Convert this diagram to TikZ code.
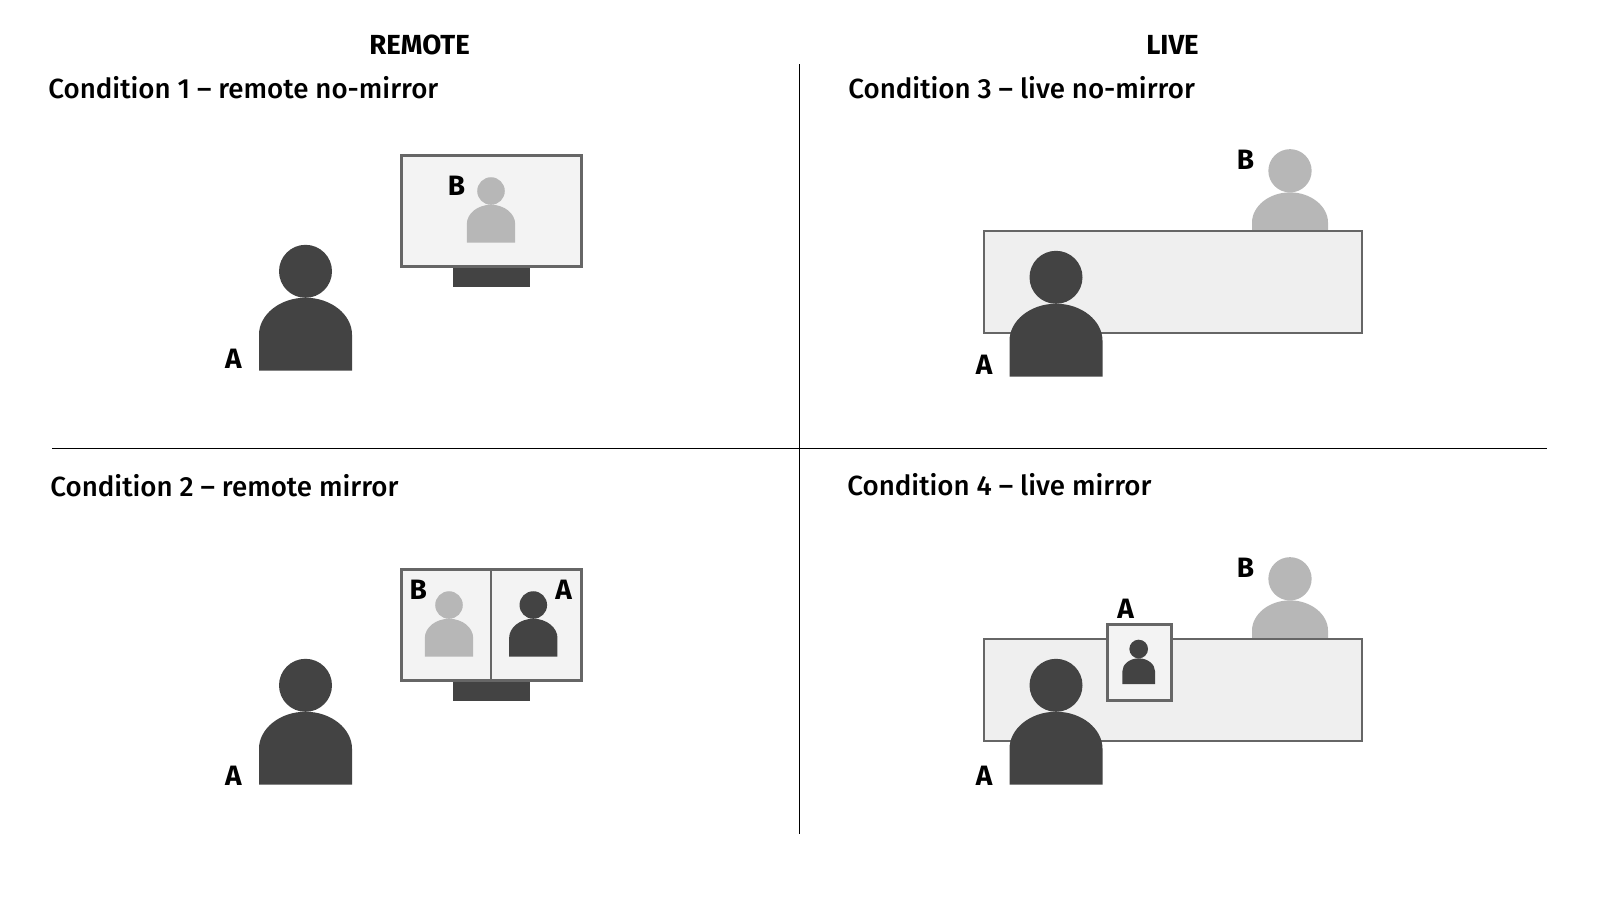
\documentclass[tikz,border=0pt]{standalone}
\usepackage{fontspec}
\setmainfont{Fira Sans}[BoldFont={Fira Sans Medium}]
\newfontfamily\letterfont{Fira Sans}[UprightFont={* Bold}]
\definecolor{persondark}{HTML}{434343}
\definecolor{personlight}{HTML}{B7B7B7}
\definecolor{framegrey}{HTML}{666666}
\definecolor{screengrey}{HTML}{F3F3F3}
\definecolor{tablegrey}{HTML}{EFEFEF}
\tikzset{
    person/.pic={
        \fill[pic actions] (0,-99.4) circle (26.5);
        \fill[pic actions] (-46.5,0) -- (-46.5,-36)
            .. controls (-46.5,-56) and (-25.7,-73) .. (0,-73)
            .. controls (25.7,-73) and (46.5,-56) .. (46.5,-36)
            -- (46.5,0) -- cycle;
    },
    dark/.style={fill=persondark},
    light/.style={fill=personlight},
    screen/.style={draw=framegrey,line width=1.5pt,fill=screengrey},
    stand/.style={fill=persondark},
    table/.style={draw=framegrey,line width=.8pt,fill=tablegrey},
    divider/.style={draw=black,line width=.6pt},
    heading/.style={font=\letterfont\fontsize{13.8}{16}\selectfont,anchor=base,inner sep=0},
    condition/.style={font=\bfseries\fontsize{13.85}{16}\selectfont,anchor=base west,inner sep=0},
    letter/.style={font=\letterfont\fontsize{14}{16}\selectfont,anchor=base,inner sep=0},
}

\begin{document}
\begin{tikzpicture}[x=.5pt,y=-.5pt]
    \useasboundingbox (0,0) rectangle (1600,896);
    \node[heading] (remote) at (419.5,54) {REMOTE};
    \node[heading] (live) at (1172.5,54) {LIVE};
    \node[condition] (cond1) at (48,98.5) {Condition 1 -- remote no-mirror};
    \node[condition] (cond2) at (50,496.5) {Condition 2 -- remote mirror};
    \node[condition] (cond3) at (848,98) {Condition 3 -- live no-mirror};
    \node[condition] (cond4) at (847,495.5) {Condition 4 -- live mirror};
    \draw[divider] (799.25,64) -- (799.25,834);
    \draw[divider] (52,448.5) -- (1547,448.5);

    % remote no-mirror
    \pic[dark] (personA1) at (305.5,370.7) {person};
    \node[letter] (labelA1) at (233.5,368) {A};
    \fill[stand] (452.7,266) rectangle (529.7,286.7);
    \draw[screen] (401,155) rectangle (581,266);
    \pic[light,scale=.52] (personB1) at (491,242.7) {person};
    \node[letter] (labelB1) at (456.5,195) {B};

    % remote mirror
    \pic[dark] (personA2) at (305.5,784.7) {person};
    \node[letter] (labelA2) at (233.5,785) {A};
    \fill[stand] (452.7,680) rectangle (529.7,701);
    \draw[screen] (401,569.5) rectangle (581,680);
    \draw[draw=framegrey,line width=1pt] (491,569.5) -- (491,680);
    \pic[light,scale=.52] (personB2) at (449,656.7) {person};
    \pic[dark,scale=.52] (personA2m) at (533.3,656.7) {person};
    \node[letter] (labelB2) at (418.3,599) {B};
    \node[letter] (labelA2m) at (563.7,599) {A};

    % live no-mirror
    \pic[light,scale=.817] (personB3) at (1290,252) {person};
    \draw[table] (984,231) rectangle (1362,333);
    \pic[dark] (personA3) at (1056,376.7) {person};
    \node[letter] (labelB3) at (1245.5,169) {B};
    \node[letter] (labelA3) at (984,374.5) {A};

    % live mirror
    \pic[light,scale=.817] (personB4) at (1290,660) {person};
    \draw[table] (984,639) rectangle (1362,741);
    \pic[dark] (personA4) at (1056,784.7) {person};
    \draw[screen] (1107.5,624.5) rectangle (1171.5,700);
    \pic[dark,scale=.352] (personA4m) at (1138.7,684) {person};
    \node[letter] (labelB4) at (1245.5,577.5) {B};
    \node[letter] (labelA4) at (984,785) {A};
    \node[letter] (labelA4m) at (1125.5,618.7) {A};
\end{tikzpicture}
\end{document}
